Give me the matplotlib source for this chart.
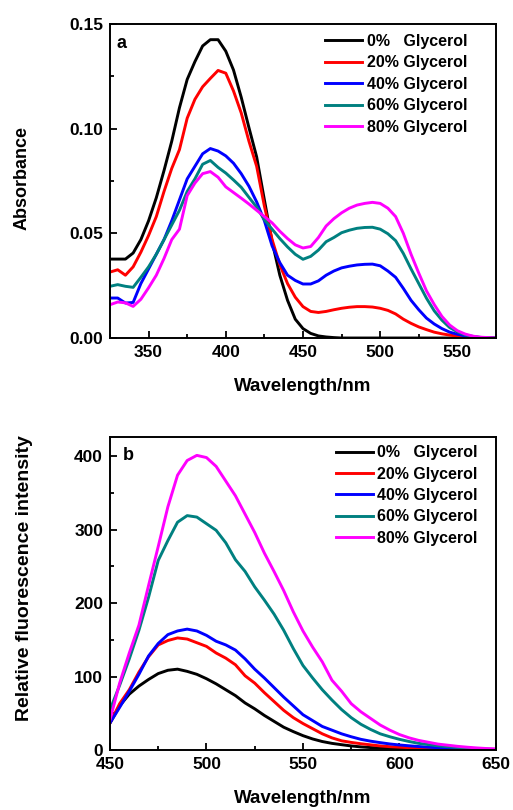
import matplotlib
matplotlib.use('Agg')
import matplotlib.pyplot as plt
from matplotlib.ticker import MultipleLocator, FormatStrFormatter

plt.rcParams['font.family'] = ['Liberation Sans', 'DejaVu Sans']
plt.rcParams['font.weight'] = 'bold'
plt.rcParams['axes.labelweight'] = 'bold'

# ---- panel a : absorbance ----
wl_a = [325, 330, 335, 340, 345, 350, 355, 360, 365, 370,
        375, 380, 385, 390, 395, 400, 405, 410, 415, 420,
        425, 430, 435, 440, 445, 450, 455, 460, 465, 470,
        475, 480, 485, 490, 495, 500, 505, 510, 515, 520,
        525, 530, 535, 540, 545, 550, 555, 560, 565, 570, 575]
abs_0 = [.0377, .0377, .0377, .0406, .047, .056, .067, .080, .094, .110,
         .1235, .132, .1395, .1425, .1425, .137, .128, .115, .1005, .0865,
         .066, .046, .030, .018, .009, .0045, .0022, .001, .0005, .0002,
         0, 0, 0, 0, 0, 0, 0, 0, 0, 0,
         0, 0, 0, 0, 0, 0, 0, 0, 0, 0, 0]
abs_20 = [.0315, .0326, .030, .034, .041, .049, .058, .070, .081, .090,
          .105, .114, .120, .124, .1278, .1265, .118, .1075, .094, .082,
          .063, .047, .035, .026, .0195, .015, .0127, .0122, .0127, .0135,
          .0142, .0147, .015, .015, .0148, .0142, .0132, .0115, .009, .007,
          .0053, .004, .0028, .002, .0014, .0009, .0005, .0002, .0001, 0, 0]
abs_40 = [.0191, .0191, .0167, .017, .026, .033, .040, .047, .056, .066,
          .076, .082, .088, .0905, .0893, .087, .0835, .0785, .0725, .065,
          .056, .044, .036, .030, .0275, .0258, .0258, .0273, .030, .032,
          .0335, .0343, .0349, .0352, .0353, .0345, .032, .029, .0237, .018,
          .0135, .0095, .0067, .0045, .0028, .0018, .001, .0005, .0002, 0, 0]
abs_60 = [.0247, .0255, .0247, .0242, .029, .034, .040, .047, .054, .061,
          .070, .076, .083, .0848, .0815, .0788, .0755, .072, .0672, .0625,
          .0565, .052, .0475, .0435, .040, .0376, .039, .042, .046, .048,
          .0503, .0515, .0524, .0528, .0529, .052, .0498, .0465, .0404, .033,
          .026, .019, .013, .0085, .005, .003, .0015, .0008, .0003, .0001, 0]
abs_80 = [.0159, .0172, .0168, .0151, .0185, .024, .030, .038, .047, .052,
          .068, .074, .0785, .0795, .0768, .0722, .0695, .0668, .064, .061,
          .058, .055, .051, .0475, .0445, .043, .0437, .048, .0535, .057,
          .0598, .062, .0635, .0643, .0648, .0643, .062, .058, .050, .040,
          .031, .0225, .016, .0103, .0062, .0035, .0019, .0009, .0004, .0002, 0]

# ---- panel b : fluorescence ----
wl_b = [450, 455, 460, 465, 470, 475, 480, 485, 490, 495,
        500, 505, 510, 515, 520, 525, 530, 535, 540, 545,
        550, 555, 560, 565, 570, 575, 580, 585, 590, 595,
        600, 605, 610, 615, 620, 625, 630, 635, 640, 645, 650]
fl_0 = [36.7, 60, 76, 87, 96, 104, 108.5, 110, 107, 103,
        97, 90, 82, 74, 64, 56, 47, 39, 31, 25,
        19.5, 15, 11.5, 9, 7.2, 5.5, 4.2, 3.3, 2.7, 2.3,
        2, 1.7, 1.5, 1.2, 1, 0.8, 0.6, 0.4, 0.3, 0.2, 0.1]
fl_20 = [36.7, 63, 82, 106, 127, 143, 149, 152.5, 151, 146,
         141, 132, 125, 116, 101, 91, 78, 66, 54, 44,
         36, 29, 22, 16.5, 12.5, 10.3, 8.5, 7, 5.5, 4.5,
         3.8, 3.2, 2.6, 2.1, 1.6, 1.2, 0.9, 0.6, 0.4, 0.2, 0.1]
fl_40 = [36.7, 58, 80, 103, 128, 145, 157, 162, 164.5, 162,
         156, 148, 143, 136, 124, 110, 98, 85, 72, 60,
         48, 40, 32, 27, 22, 18, 14.5, 12, 10, 8.2,
         6.8, 5.7, 4.7, 3.8, 3.1, 2.5, 2, 1.5, 1, 0.6, 0.3]
fl_60 = [54.7, 88, 124, 163, 208, 258, 285, 310, 319, 317,
         308, 299, 282, 259, 243, 222, 204, 185, 163, 138,
         115, 98, 82, 68, 55, 44, 35, 28, 22, 18,
         14.5, 11.5, 9, 7.3, 5.8, 4.5, 3.5, 2.6, 1.8, 1.2, 0.8]
fl_80 = [41, 91, 132, 170, 224, 277, 331, 374, 394, 401,
         398, 386, 366, 346, 321, 296, 268, 243, 217, 188,
         162, 140, 120, 95, 80, 63, 52, 43, 34, 27,
         21, 16.5, 13, 10.5, 8, 6.5, 5, 3.8, 2.8, 2, 1.5]

labels = ['0%   Glycerol', '20% Glycerol', '40% Glycerol', '60% Glycerol', '80% Glycerol']
colors = ['#000000', '#ff0000', '#0000ff', '#008080', '#ff00ff']

fig = plt.figure(figsize=(5.13, 8.10), dpi=100)
ax1 = fig.add_axes([0.2144, 0.5827, 0.7524, 0.3877])
ax2 = fig.add_axes([0.2144, 0.0741, 0.7524, 0.3864])

for y, c, l in zip([abs_0, abs_20, abs_40, abs_60, abs_80], colors, labels):
    ax1.plot(wl_a, y, color=c, lw=2.1, label=l)
for y, c, l in zip([fl_0, fl_20, fl_40, fl_60, fl_80], colors, labels):
    ax2.plot(wl_b, y, color=c, lw=2.1, label=l)

ax1.set_xlim(325, 575)
ax1.set_ylim(0, 0.15)
ax1.xaxis.set_major_locator(MultipleLocator(50))
ax1.xaxis.set_minor_locator(MultipleLocator(25))
ax1.yaxis.set_major_locator(MultipleLocator(0.05))
ax1.yaxis.set_minor_locator(MultipleLocator(0.025))
ax1.yaxis.set_major_formatter(FormatStrFormatter('%.2f'))
ax1.set_xticks([350, 400, 450, 500, 550])

ax2.set_xlim(450, 650)
ax2.set_ylim(0, 426)
ax2.xaxis.set_major_locator(MultipleLocator(50))
ax2.xaxis.set_minor_locator(MultipleLocator(25))
ax2.yaxis.set_major_locator(MultipleLocator(100))
ax2.yaxis.set_minor_locator(MultipleLocator(50))

for ax in (ax1, ax2):
    for s in ax.spines.values():
        s.set_linewidth(1.4)
    ax.tick_params(which='both', direction='in', width=1.3, labelsize=12.5, pad=5)
    ax.tick_params(which='major', length=5)
    ax.tick_params(which='minor', length=3)
    ax.set_xlabel('Wavelength/nm', fontsize=13.5, fontweight='bold')

ax1.set_ylabel('Absorbance', fontsize=13, fontweight='bold')
ax2.set_ylabel('Relative fluorescence intensity', fontsize=14, fontweight='bold')
ax1.xaxis.set_label_coords(0.498, -0.127)
ax2.xaxis.set_label_coords(0.498, -0.128)
ax1.yaxis.set_label_coords(-0.207, 0.51)
ax2.yaxis.set_label_coords(-0.199, 0.55)

ax1.text(0.016, 0.938, 'a', transform=ax1.transAxes, fontsize=13, fontweight='bold', va='center')
ax2.text(0.034, 0.942, 'b', transform=ax2.transAxes, fontsize=13, fontweight='bold', va='center')

leg_kw = dict(loc='upper right', frameon=False, fontsize=11.5, handlelength=2.3,
              handletextpad=0.3, labelspacing=0.4, borderaxespad=0, borderpad=0)
ax1.legend(bbox_to_anchor=(0.925, 0.968), **leg_kw)
ax2.legend(bbox_to_anchor=(0.953, 0.974), **leg_kw)

fig.savefig('out.png', dpi=100)
